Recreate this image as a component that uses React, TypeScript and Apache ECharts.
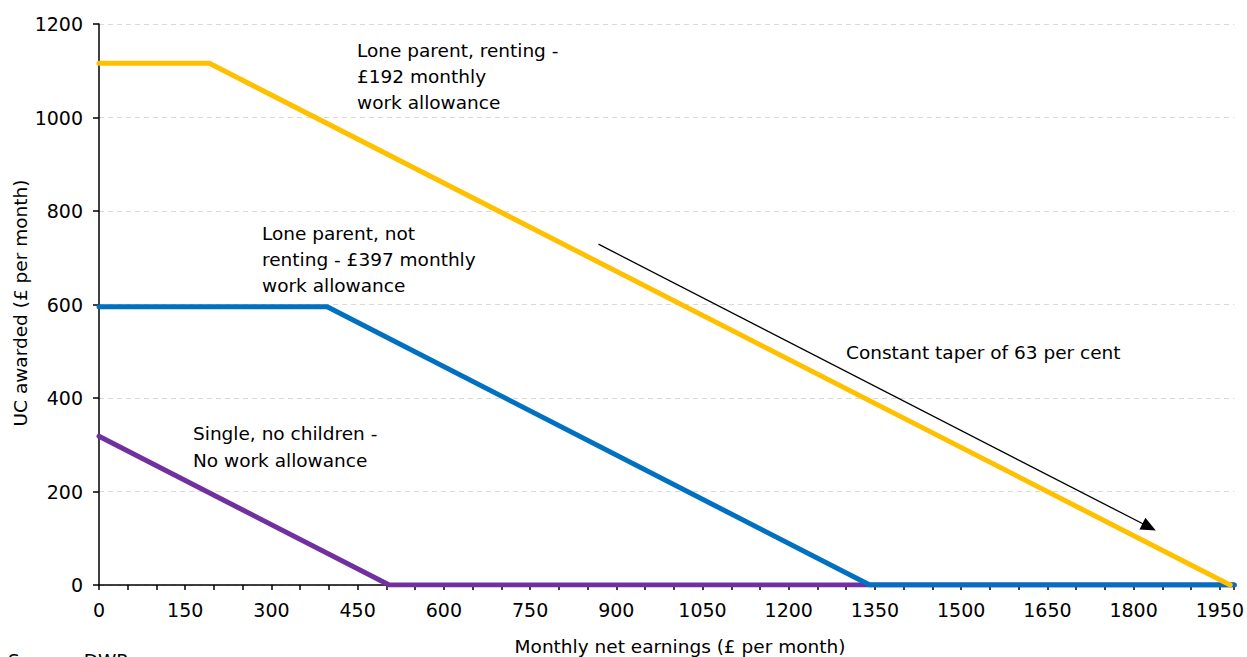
import React, { useEffect, useRef } from "react";
import * as echarts from "echarts";

// Monthly net earnings (£) / UC awarded (£ per month) break points
const singleNoChildren: [number, number][] = [
  [0, 318],
  [505, 0],
  [1975, 0],
];
const loneParentNotRenting: [number, number][] = [
  [0, 595],
  [397, 595],
  [1341, 0],
  [1975, 0],
];
const loneParentRenting: [number, number][] = [
  [0, 1116],
  [192, 1116],
  [1968, 0],
];
const xMax = 1975;
const yTicks = [0, 200, 400, 600, 800, 1000, 1200];
const arrowStart: [number, number] = [869, 729];
const arrowEnd: [number, number] = [1827, 124];

const FONT = "'DejaVu Sans', sans-serif";

export default function App() {
  const ref = useRef<HTMLDivElement>(null);
  useEffect(() => {
    if (!ref.current) return;
    const chart = echarts.init(ref.current, undefined, { renderer: "svg" });
    const textStyle = { fontFamily: FONT, fontSize: 18.5, fill: "#000" };
    chart.setOption({
      animation: false,
      backgroundColor: "#fff",
      grid: { left: 99, right: 11, top: 24, bottom: 72, containLabel: false },
      xAxis: {
        type: "value",
        min: 0,
        max: xMax,
        interval: 50,
        axisLine: { show: true, onZero: false, lineStyle: { color: "#000", width: 1.5 } },
        axisTick: { show: true, length: 5, lineStyle: { color: "#000", width: 1.5 } },
        splitLine: { show: false },
        axisLabel: {
          color: "#000",
          fontFamily: FONT,
          fontSize: 19,
          margin: 15,
          formatter: (v: number) => (v % 150 === 0 ? String(v) : ""),
        },
      },
      yAxis: {
        type: "value",
        min: yTicks[0],
        max: yTicks[yTicks.length - 1],
        interval: 200,
        axisLine: { show: true, lineStyle: { color: "#000", width: 1.5 } },
        axisTick: { show: true, length: 6, lineStyle: { color: "#000", width: 1.5 } },
        splitLine: { show: true, lineStyle: { color: "#d9d9d9", type: [5, 4], width: 1.2 } },
        axisLabel: {
          color: "#000",
          fontFamily: FONT,
          fontSize: 19,
          margin: 16,
          formatter: (v: number) => String(v),
        },
      },
      series: [
        {
          type: "line",
          data: singleNoChildren,
          showSymbol: false,
          symbol: "none",
          lineStyle: { color: "#7030A0", width: 5, cap: "round" },
          z: 2,
        },
        {
          type: "line",
          data: loneParentNotRenting,
          showSymbol: false,
          symbol: "none",
          lineStyle: { color: "#0070C0", width: 5, cap: "round" },
          z: 3,
        },
        {
          type: "line",
          data: loneParentRenting,
          showSymbol: false,
          symbol: "none",
          lineStyle: { color: "#FFC000", width: 5, cap: "round" },
          z: 4,
          markLine: {
            silent: true,
            symbol: ["none", "triangle"],
            symbolSize: [13, 15],
            label: { show: false },
            lineStyle: { color: "#000", width: 1.3, type: "solid" },
            data: [[{ coord: arrowStart }, { coord: arrowEnd }]],
          },
        },
      ],
      graphic: [
        {
          type: "text",
          left: 357,
          top: 37,
          style: { ...textStyle, text: "Lone parent, renting -\n£192 monthly\nwork allowance", lineHeight: 26 },
        },
        {
          type: "text",
          left: 262,
          top: 220,
          style: { ...textStyle, text: "Lone parent, not\nrenting - £397 monthly\nwork allowance", lineHeight: 26 },
        },
        {
          type: "text",
          left: 193,
          top: 420,
          style: { ...textStyle, text: "Single, no children -\nNo work allowance", lineHeight: 27 },
        },
        {
          type: "text",
          left: 846,
          top: 339,
          style: { ...textStyle, text: "Constant taper of 63 per cent", lineHeight: 26 },
        },
        {
          type: "text",
          x: 20,
          y: 303,
          rotation: Math.PI / 2,
          style: { ...textStyle, text: "UC awarded (£ per month)", align: "center", verticalAlign: "middle" },
        },
        {
          type: "text",
          x: 680,
          y: 646,
          style: { ...textStyle, text: "Monthly net earnings (£ per month)", align: "center", verticalAlign: "middle" },
        },
        {
          type: "text",
          left: 8,
          top: 651,
          style: { ...textStyle, text: "Source: DWP" },
        },
      ],
    });
    return () => chart.dispose();
  }, []);
  return (
    <div
      ref={ref}
      style={{ position: "fixed", left: 0, top: 0, width: 1247, height: 657, background: "#fff" }}
    />
  );
}
